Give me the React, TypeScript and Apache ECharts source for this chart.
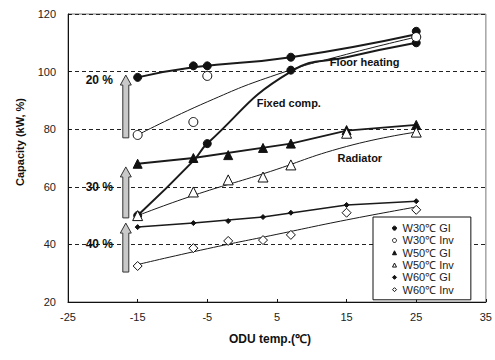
import React, { useEffect, useRef } from "react";
import * as echarts from "echarts";

// Measured points [ODU temp, capacity]
const w30GI: number[][] = [[-15, 98], [-7, 102], [-5, 102], [7, 105], [25, 114]];
const w30Inv: number[][] = [[-15, 78], [-7, 82.5], [-5, 98.5], [25, 112]];
const fixedComp: number[][] = [[-15, 50], [-5, 75], [7, 100.5], [25, 110]];
const w50GI: number[][] = [[-15, 68], [-7, 70], [-2, 71], [3, 73.5], [7, 75], [15, 79.7], [25, 81.5]];
const w50Inv: number[][] = [[-15, 50], [-7, 58.2], [-2, 62.4], [3, 63.4], [7, 67.6], [15, 78.6], [25, 79]];
const w60GI: number[][] = [[-15, 46], [-7, 47.4], [-2, 48.1], [3, 49.5], [7, 51], [15, 53.7], [25, 55]];
const w60Inv: number[][] = [[-15, 32.5], [-7, 38.7], [-2, 41.2], [3, 41.5], [7, 43.3], [15, 51], [25, 52]];

// Trend curves
const w30GITrend: number[][] = [[-15, 98], [-7, 101.5], [7, 105], [25, 113]];
const w30InvTrend: number[][] = [[-15, 78], [-5, 89.5], [5, 99], [15, 106], [25, 112]];
const fixedTrend: number[][] = [[-15, 50], [-7, 69], [-5, 75], [7, 100], [15, 105], [25, 110]];
const w50GITrend: number[][] = [[-15, 68], [-7, 70], [7, 75], [15, 79.5], [25, 81.5]];
const w50InvTrend: number[][] = [[-15, 50], [-7, 57], [3, 64.5], [15, 74], [25, 79]];
const w60GITrend: number[][] = [[-15, 46], [-7, 47.4], [3, 49.5], [15, 53.7], [25, 55]];
const w60InvTrend: number[][] = [[-15, 33], [-5, 38.5], [5, 43.5], [15, 48.5], [25, 53]];

// Legend entries
const legendNames: string[] = ["W30℃ GI", "W30℃ Inv", "W50℃ GI", "W50℃ Inv", "W60℃ GI", "W60℃ Inv"];
const legendSymbols: string[] = ["circle", "circle", "triangle", "triangle", "diamond", "diamond"];
const legendFilled: boolean[] = [true, false, true, false, true, false];

// Arrows: [x, bottom, top] and percentage labels [label, y]
const arrows: number[][] = [[-16.7, 77, 98.8], [-16.7, 49.2, 66.9], [-16.7, 30.4, 47.4]];
const pctLabels: [string, number][] = [["20 %", 97], ["30 %", 60], ["40 %", 40]];
const curveLabels: [string, number, number][] = [["Floor heating", 12.6, 103.3], ["Fixed comp.", 2.1, 89], ["Radiator", 13.7, 70]];

const FONT = "Liberation Sans";

export default function App() {
  const ref = useRef<HTMLDivElement>(null);
  useEffect(() => {
    if (!ref.current) return;
    const chart = echarts.init(ref.current, undefined, { renderer: "svg" });
    const lineS = (name: string, data: number[][], width: number, smooth: boolean) => ({
      name,
      type: "line",
      data,
      smooth,
      symbol: "none",
      silent: true,
      lineStyle: { color: "#1a1a1a", width },
      z: 2,
    });
    const scat = (name: string, data: number[][], symbol: string, size: number, filled: boolean) => ({
      name,
      type: "scatter",
      data,
      symbol,
      symbolSize: size,
      itemStyle: {
        color: filled ? "#111" : "#fff",
        borderColor: "#111",
        borderWidth: 1,
        opacity: 1,
      },
      z: 4,
    });
    chart.setOption({
      animation: false,
      grid: { left: 68, right: 9, top: 14, bottom: 58, show: true, borderColor: "#777", borderWidth: 1 },
      xAxis: {
        type: "value",
        min: -25,
        max: 35,
        interval: 10,
        axisLine: { onZero: false, lineStyle: { color: "#111" } },
        axisTick: { inside: true, length: 3, lineStyle: { color: "#111" } },
        axisLabel: { color: "#222", fontFamily: FONT, fontSize: 11, margin: 9 },
        splitLine: { show: false },
      },
      yAxis: {
        type: "value",
        min: 20,
        max: 120,
        interval: 20,
        axisLine: { show: true, onZero: false, lineStyle: { color: "#111" } },
        axisTick: { show: true, inside: true, length: 3, lineStyle: { color: "#111" } },
        axisLabel: { color: "#222", fontFamily: FONT, fontSize: 11, margin: 12 },
        splitLine: { show: true, lineStyle: { color: "#222", type: [4, 3], width: 1 } },
      },
      legend: {
        orient: "vertical",
        left: 373,
        top: 217,
        data: legendNames.map((n, i) => ({
          name: n,
          icon: legendSymbols[i],
          itemStyle: { color: legendFilled[i] ? "#111" : "#fff", borderColor: "#111", borderWidth: 1 },
        })),
        backgroundColor: "#fff",
        borderColor: "#111",
        borderWidth: 1,
        borderRadius: 0,
        padding: [5, 17, 4, 19],
        itemGap: 0,
        itemWidth: 4,
        itemHeight: 4,
        textStyle: { fontFamily: FONT, fontSize: 11, color: "#222", lineHeight: 12.3, padding: [0, 0, 0, 1] },
      },
      series: [
        lineS("t30gi", w30GITrend, 2, true),
        lineS("t30inv", w30InvTrend, 1, true),
        lineS("tfix", fixedTrend, 2, true),
        lineS("t50gi", w50GITrend, 1.8, false),
        lineS("t50inv", w50InvTrend, 1, true),
        lineS("t60gi", w60GITrend, 1.5, false),
        lineS("t60inv", w60InvTrend, 1, true),
        scat("Fixed comp", fixedComp, "circle", 8, true),
        scat("W30℃ GI", w30GI, "circle", 8, true),
        scat("W30℃ Inv", w30Inv, "circle", 9, false),
        scat("W50℃ GI", w50GI, "triangle", 9, true),
        scat("W50℃ Inv", w50Inv, "triangle", 10, false),
        scat("W60℃ GI", w60GI, "diamond", 5, true),
        scat("W60℃ Inv", w60Inv, "diamond", 9, false),
      ],
    });

    const px = (x: number, y: number) => chart.convertToPixel({ xAxisIndex: 0, yAxisIndex: 0 }, [x, y]) as number[];
    const graphics: any[] = [];
    arrows.forEach(([x, b, t]) => {
      const [cx, ty] = px(x, t);
      const [, by] = px(x, b);
      graphics.push({
        type: "polygon",
        shape: {
          points: [
            [cx, ty],
            [cx + 5.5, ty + 10],
            [cx + 3, ty + 10],
            [cx + 3, by],
            [cx - 3, by],
            [cx - 3, ty + 10],
            [cx - 5.5, ty + 10],
          ],
        },
        style: { fill: "#c9c9c9", stroke: "#333", lineWidth: 1 },
        z: 10,
      });
    });
    pctLabels.forEach(([label, y]) => {
      const [, py] = px(-25, y);
      graphics.push({
        type: "text",
        x: 113,
        y: py,
        style: { text: label, fontFamily: FONT, fontSize: 12, fontWeight: "bold", fill: "#111", align: "right", verticalAlign: "middle" },
        z: 10,
      });
    });
    curveLabels.forEach(([label, x, y]) => {
      const [lx, ly] = px(x, y);
      graphics.push({
        type: "text",
        x: lx,
        y: ly,
        style: { text: label, fontFamily: FONT, fontSize: 11, fontWeight: "bold", fill: "#111", align: "left", verticalAlign: "middle" },
        z: 10,
      });
    });
    graphics.push({
      type: "text",
      x: 20,
      y: 142,
      rotation: Math.PI / 2,
      style: { text: "Capacity (kW, %)", fontFamily: FONT, fontSize: 11, fontWeight: "bold", fill: "#111", align: "center", verticalAlign: "middle" },
    });
    graphics.push({
      type: "text",
      x: 270,
      y: 339,
      style: { text: "ODU temp.(℃)", fontFamily: FONT, fontSize: 12, fontWeight: "bold", fill: "#111", align: "center", verticalAlign: "middle" },
    });
    chart.setOption({ graphic: graphics });
    return () => chart.dispose();
  }, []);
  return <div ref={ref} style={{ width: 495, height: 360, position: "absolute", left: 0, top: 0 }} />;
}
